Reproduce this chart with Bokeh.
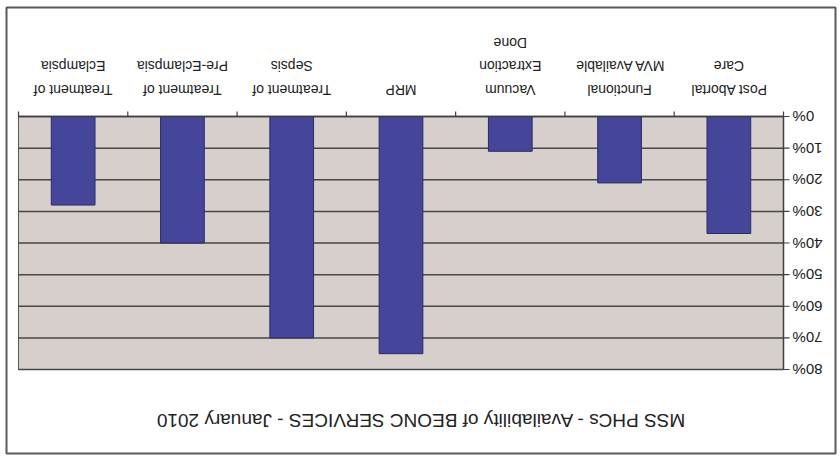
import math
from bokeh.plotting import figure
from bokeh.models import Range1d
from bokeh.core.properties import value
from bokeh.embed import file_html
from bokeh.resources import INLINE

# Services surveyed and the share of PHCs offering each (fraction of 1)
services = [
    "Post Abortal\nCare",
    "Functional\nMVA Available",
    "Vacuum\nExtraction\nDone",
    "MRP",
    "Treatment of\nSepsis",
    "Treatment of\nPre-Eclampsia",
    "Treatment of\nEclampsia",
]
availability = [0.37, 0.21, 0.11, 0.75, 0.70, 0.40, 0.28]
pct_ticks = [0.0, 0.1, 0.2, 0.3, 0.4, 0.5, 0.6, 0.7, 0.8]
title_text = "MSS PHCs - Availability of BEONC SERVICES - January 2010"

FONT = "Liberation Sans"
TXT = "#222222"
DARK = "#3f3f3f"

# The chart is shown turned half a turn: categories run right-to-left,
# the value scale grows downward and every text is upside down.
# Pixel layout of the canvas (frame edges and plot-area edges).
W, H = 840, 457
FL, FR, FT, FB = 6, 835, 7, 453
PL, PR, PT, PB = 18, 783, 116, 369
VMAX = pct_ticks[-1]

n = len(services)
xunit = (PR - PL) / n          # pixels per category
yunit = (PB - PT) / VMAX       # pixels per unit of availability

p = figure(
    width=W, height=H,
    x_range=Range1d(-(PL - FL) / xunit, n + (FR - PR) / xunit),
    y_range=Range1d(start=VMAX + (FB - PB) / yunit, end=-(PT - FT) / yunit),
    output_backend="svg", toolbar_location=None,
    min_border_left=FL, min_border_right=W - FR,
    min_border_top=FT, min_border_bottom=H - FB,
    background_fill_color="white", border_fill_color="white",
    outline_line_color="#5a5a5a", outline_line_width=2,
)
p.axis.visible = False
p.grid.visible = False

# categories laid out right-to-left
order = list(reversed(range(n)))
xpos = [order[i] + 0.5 for i in range(n)]
edges = list(range(n + 1))

# plot area and horizontal gridlines
p.quad(left=0, right=n, top=0, bottom=VMAX,
       fill_color="#d6cfcb", line_color="#555555", line_width=1)
p.segment(x0=[0] * len(pct_ticks), x1=[n] * len(pct_ticks),
          y0=pct_ticks, y1=pct_ticks, line_color="#474747", line_width=1.5)

# bars
p.vbar(x=xpos, top=availability, bottom=0, width=0.4,
       fill_color="#45459a", line_color="#2b2b6a", line_width=1)

# value scale on the right: line, outward ticks, upside-down labels
tick_len = 6 / xunit
p.segment(x0=[n], x1=[n], y0=[0], y1=[VMAX], line_color=DARK, line_width=1.5)
p.segment(x0=[n] * len(pct_ticks), x1=[n + tick_len] * len(pct_ticks),
          y0=pct_ticks, y1=pct_ticks, line_color=DARK, line_width=1.2)
p.text(x=[n + 9 / xunit] * len(pct_ticks), y=pct_ticks,
       text=[f"{round(t * 100)}%" for t in pct_ticks],
       angle=math.pi, text_align="right", text_baseline="middle",
       text_font=value(FONT), text_font_size=value("15px"), text_color=TXT)

# category scale on top: line, boundary ticks, upside-down labels
p.segment(x0=[0], x1=[n], y0=[0], y1=[0], line_color=DARK, line_width=1.5)
p.segment(x0=edges, x1=edges, y0=[0] * len(edges),
          y1=[-5 / yunit] * len(edges), line_color=DARK, line_width=1.2)
p.text(x=xpos, y=[-19 / yunit] * n, text=services,
       angle=math.pi, text_align="center", text_baseline="top",
       text_line_height=1.45,
       text_font=value(FONT), text_font_size=value("14px"), text_color=TXT)

# title below the plot area
p.text(x=[(420 - PL) / xunit], y=[VMAX + (420 - PB) / yunit], text=[title_text],
       angle=math.pi, text_align="center", text_baseline="middle",
       text_font=value(FONT), text_font_size=value("19px"), text_color=TXT)

open("out.html", "w").write(file_html(p, INLINE))
